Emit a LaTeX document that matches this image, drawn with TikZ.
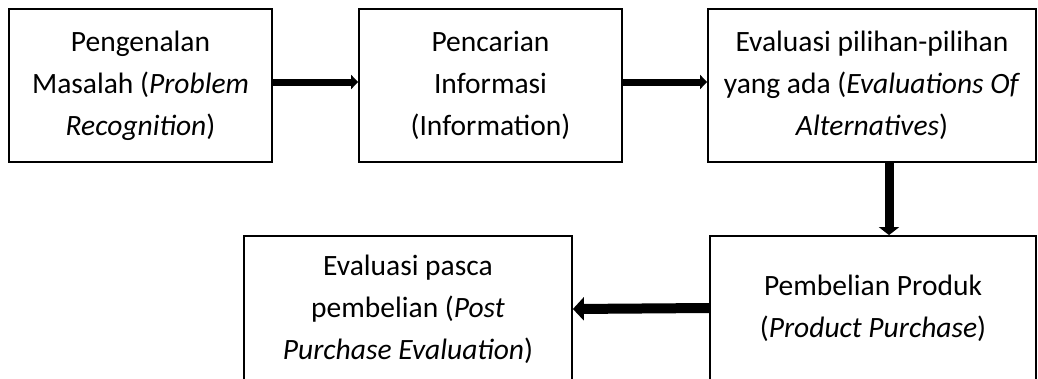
\documentclass[tikz,border=0pt]{standalone}
\usepackage{fontspec}
\setmainfont{Carlito}
\usetikzlibrary{arrows.meta}
\begin{document}
\begin{tikzpicture}[x=1pt,y=-1pt,
  stepbox/.style={draw, line width=1.8pt, rectangle, inner sep=0pt, align=center,
    font=\fontsize{29.5}{42}\selectfont},
]
\useasboundingbox (0,0) rectangle (1038,378);
\clip (0,0) rectangle (1038,378);
\node[stepbox, minimum width=263pt, minimum height=153pt] (b1) at (140.5,85.5)
  {Pengenalan\\Masalah (\textit{Problem}\\\textit{Recognition})};
\node[stepbox, minimum width=263pt, minimum height=153pt] (b2) at (490.5,85.5)
  {Pencarian\\Informasi\\(Information)};
\node[stepbox, minimum width=328pt, minimum height=153pt] (b3) at (872,85.5)
  {Evaluasi pilihan-pilihan\\yang ada (\textit{Evaluations Of}\\\textit{Alternatives})};
\node[stepbox, minimum width=328pt, minimum height=146pt] (b4) at (408,309)
  {Evaluasi pasca\\pembelian (\textit{Post}\\\textit{Purchase Evaluation})};
\node[stepbox, minimum width=326pt, minimum height=144pt] (b5) at (873,308)
  {Pembelian Produk\\(\textit{Product Purchase})};
\draw[line width=7pt, -{Triangle[length=7pt,width=14pt]}] ([yshift=3.5pt]b1.east) -- ([yshift=3.5pt]b2.west);
\draw[line width=7pt, -{Triangle[length=7pt,width=14pt]}] ([yshift=3.5pt]b2.east) -- ([yshift=3.5pt]b3.west);
\draw[line width=9pt, -{Triangle[length=8pt,width=20pt]}] ([xshift=17pt]b3.south) -- ([xshift=17pt]b3.south |- b5.north);
\draw[line width=10pt, -{Triangle[length=11pt,width=23pt]}] (b5.west) -- (b4.east);
\end{tikzpicture}
\end{document}
